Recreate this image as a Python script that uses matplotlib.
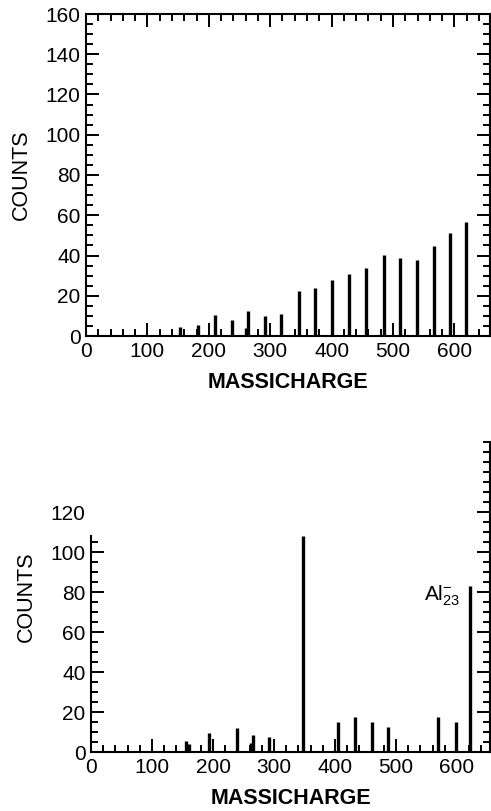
import numpy as np
import matplotlib
matplotlib.use("Agg")
import matplotlib.pyplot as plt
from matplotlib.ticker import MultipleLocator, FixedLocator

plt.rcParams['font.family'] = ['Liberation Sans', 'DejaVu Sans']
plt.rcParams['mathtext.fontset'] = 'custom'
plt.rcParams['mathtext.rm'] = 'Liberation Sans'
plt.rcParams['mathtext.it'] = 'Liberation Sans'

# upper spectrum
top_mz = [153, 182, 210, 237, 260, 264, 292, 318, 347, 373, 400, 429, 456, 485, 512, 539, 566, 593, 619]
top_counts = [4.3, 5.5, 10.4, 8, 3.8, 12.6, 10, 11, 22.4, 24, 28, 31, 33.6, 40.2, 38.6, 37.7, 44.7, 51, 56.8]

# lower spectrum
bot_mz = [155, 160, 194, 239, 262, 266, 292, 348, 405, 433, 460, 487, 569, 599, 622]
bot_counts = [5.7, 4, 9.3, 11.8, 4.7, 8.5, 7.3, 108, 15.2, 17.7, 15.2, 12.7, 17.3, 15.2, 83]

x_ticks = [0, 100, 200, 300, 400, 500, 600]
top_yticks = [0, 20, 40, 60, 80, 100, 120, 140, 160]
bot_yticks = [0, 20, 40, 60, 80, 100, 120]

W, H = 491, 811
fig = plt.figure(figsize=(W / 100, H / 100), dpi=100)


def px_axes(left, right, top, bottom):
    return fig.add_axes([left / W, 1 - bottom / H, (right - left) / W, (bottom - top) / H])


def style(ax):
    ax.tick_params(which='both', direction='in', top=True, right=True, width=1.4,
                   labelsize=15, pad=4)
    ax.tick_params(which='major', length=9.5)
    ax.tick_params(which='minor', length=5)
    for s in ax.spines.values():
        s.set_linewidth(1.5)
    ax.xaxis.set_major_locator(FixedLocator(x_ticks))
    ax.xaxis.set_minor_locator(MultipleLocator(20))
    ax.yaxis.set_minor_locator(MultipleLocator(5))
    ax.set_xlabel('MASSICHARGE', fontsize=15.5, fontweight='bold', labelpad=8)
    ax.set_ylabel('COUNTS', fontsize=15.5, labelpad=10)


# top panel
ax1 = px_axes(86, 490, 14, 336)
ax1.vlines(top_mz, 0, top_counts, color='black', lw=2.4)
ax1.set_xlim(0, 658)
ax1.set_ylim(0, 160)
style(ax1)
ax1.yaxis.set_major_locator(FixedLocator(top_yticks))

# bottom panel
ax2 = px_axes(91, 490, 442, 752)
ax2.vlines(bot_mz, 0, bot_counts, color='black', lw=2.4)
ax2.set_xlim(0, 654)
ax2.set_ylim(0, 155)
style(ax2)
ax2.tick_params(which='both', top=False)
ax2.spines['top'].set_visible(False)
ax2.spines['left'].set_bounds(0, 108)
ax2.yaxis.set_major_locator(FixedLocator(bot_yticks))
fig.canvas.draw()
for t, loc in zip(ax2.yaxis.get_major_ticks(), ax2.yaxis.get_majorticklocs()):
    if loc > 108:
        t.tick1line.set_visible(False)
for t, loc in zip(ax2.yaxis.get_minor_ticks(), ax2.yaxis.get_minorticklocs()):
    if loc > 108:
        t.tick1line.set_visible(False)

ax2.text(606, 78, r'Al$_{23}^{-}$', fontsize=15, ha='right', va='center')

fig.savefig('out.png', dpi=100)
